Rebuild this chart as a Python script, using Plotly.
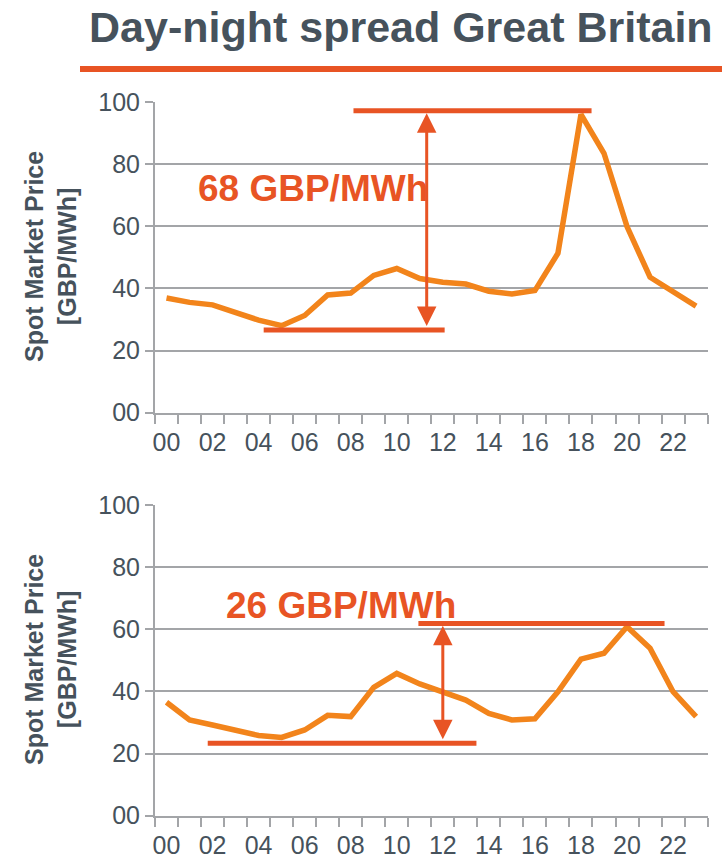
import plotly.graph_objects as go

# Hourly spot prices, Great Britain (GBP/MWh)
hours = ["00", "01", "02", "03", "04", "05", "06", "07", "08", "09", "10", "11",
         "12", "13", "14", "15", "16", "17", "18", "19", "20", "21", "22", "23"]
price_day_a = [36.9, 35.5, 34.7, 32.2, 29.8, 28.0, 31.3, 37.9, 38.5, 44.2, 46.4, 43.2,
               42.0, 41.4, 39.1, 38.2, 39.3, 51.3, 96.0, 83.5, 59.9, 43.6, 39.2, 34.3]
price_day_b = [36.5, 30.8, 29.2, 27.4, 25.8, 25.2, 27.6, 32.3, 31.9, 41.3, 45.8, 42.4,
               39.9, 37.2, 32.9, 30.8, 31.2, 39.9, 50.4, 52.3, 60.8, 53.9, 39.9, 31.9]
spread_labels = ["68 GBP/MWh", "26 GBP/MWh"]
y_ticks = [0, 20, 40, 60, 80, 100]
y_ticktext = ["00", "20", "40", "60", "80", "100"]

W, H = 722, 858
LINE_ORANGE = "#F2841B"
ACCENT = "#E85424"
TEXT_GREY = "#46525C"
GRID = "#A3A5A8"
FONT = "Liberation Sans, Arial, sans-serif"

x_pos = list(range(len(hours)))
x_ticks = x_pos[::2]
x_ticktext = hours[::2]

def px_to_x(p):
    return p / W

def px_to_y(p):
    return 1 - p / H

x_dom = [px_to_x(155), px_to_x(707.6)]
y_doms = [[px_to_y(412.7), px_to_y(102)], [px_to_y(815.7), px_to_y(505)]]

fig = go.Figure()

series = [price_day_a, price_day_b]
for i, vals in enumerate(series):
    xa = "x" if i == 0 else "x2"
    ya = "y" if i == 0 else "y2"
    fig.add_trace(go.Scatter(
        x=x_pos, y=vals, mode="lines", xaxis=xa, yaxis=ya,
        line=dict(color=LINE_ORANGE, width=5.5), showlegend=False,
        hoverinfo="skip",
    ))

axis_common_x = dict(
    range=[-0.5, 23.5], tickmode="array", tickvals=x_ticks, ticktext=x_ticktext,
    ticks="", showgrid=False, zeroline=False, showline=True, linecolor=GRID,
    linewidth=2, tickfont=dict(family=FONT, size=25, color=TEXT_GREY),
    ticklabelstandoff=6, automargin=False,
    minor=dict(tick0=-0.5, dtick=1, ticks="outside", ticklen=9, tickwidth=2,
               tickcolor=GRID, showgrid=False),
    fixedrange=True,
)
axis_common_y = dict(
    range=[0, 100], tickmode="array", tickvals=y_ticks, ticktext=y_ticktext,
    ticks="outside", ticklen=8, tickwidth=2, tickcolor=GRID,
    showgrid=True, gridcolor=GRID, gridwidth=2, zeroline=False,
    showline=True, linecolor=GRID, linewidth=2, automargin=False,
    tickfont=dict(family=FONT, size=25, color=TEXT_GREY), fixedrange=True,
)

fig.update_layout(
    template="none",
    width=W, height=H, margin=dict(l=0, r=0, t=0, b=0),
    paper_bgcolor="white", plot_bgcolor="white",
    xaxis=dict(domain=x_dom, anchor="y", **axis_common_x),
    yaxis=dict(domain=y_doms[0], anchor="x", **axis_common_y),
    xaxis2=dict(domain=x_dom, anchor="y2", **axis_common_x),
    yaxis2=dict(domain=y_doms[1], anchor="x2", **axis_common_y),
)

# Spread markers: peak/trough bars, double arrow and value label
spreads = [
    dict(xr="x", yr="y", hi=97.2, hi_x=[8.12, 18.46], lo=26.6, lo_x=[4.22, 12.08],
         arrow_x=11.3, lab_x=1.26, lab_y=72.2),
    dict(xr="x2", yr="y2", hi=61.9, hi_x=[10.94, 21.63], lo=23.3, lo_x=[1.79, 13.46],
         arrow_x=12.0, lab_x=2.51, lab_y=67.8),
]
for s, label in zip(spreads, spread_labels):
    for level, xs in ((s["hi"], s["hi_x"]), (s["lo"], s["lo_x"])):
        fig.add_shape(type="line", xref=s["xr"], yref=s["yr"],
                      x0=xs[0], x1=xs[1], y0=level, y1=level,
                      line=dict(color=ACCENT, width=5))
    fig.add_annotation(
        xref=s["xr"], yref=s["yr"], axref=s["xr"], ayref=s["yr"],
        x=s["arrow_x"], y=s["hi"] - 0.8, ax=s["arrow_x"], ay=s["lo"] + 0.8,
        text="", showarrow=True, arrowhead=2, arrowside="end+start",
        arrowsize=1.3, arrowwidth=3, arrowcolor=ACCENT,
    )
    fig.add_annotation(
        xref=s["xr"], yref=s["yr"], x=s["lab_x"], y=s["lab_y"],
        xanchor="left", yanchor="middle", showarrow=False, text=label,
        font=dict(family=FONT, size=37, color=ACCENT, weight="bold"),
    )

# Y-axis titles
for center_px in (257, 660):
    fig.add_annotation(
        xref="paper", yref="paper", x=px_to_x(50), y=px_to_y(center_px),
        xanchor="center", yanchor="middle", showarrow=False, textangle=-90,
        text="Spot Market Price<br>[GBP/MWh]",
        font=dict(family=FONT, size=25, color=TEXT_GREY, weight="bold"),
    )

# Heading and underline bar
fig.add_annotation(
    xref="paper", yref="paper", x=px_to_x(401), y=px_to_y(27),
    xanchor="center", yanchor="middle", showarrow=False,
    text="Day-night spread Great Britain",
    font=dict(family=FONT, size=43, color=TEXT_GREY, weight="bold"),
)
fig.add_shape(type="line", xref="paper", yref="paper",
              x0=px_to_x(80), x1=1, y0=px_to_y(69), y1=px_to_y(69),
              line=dict(color=ACCENT, width=6))

fig.write_html("out.html")
